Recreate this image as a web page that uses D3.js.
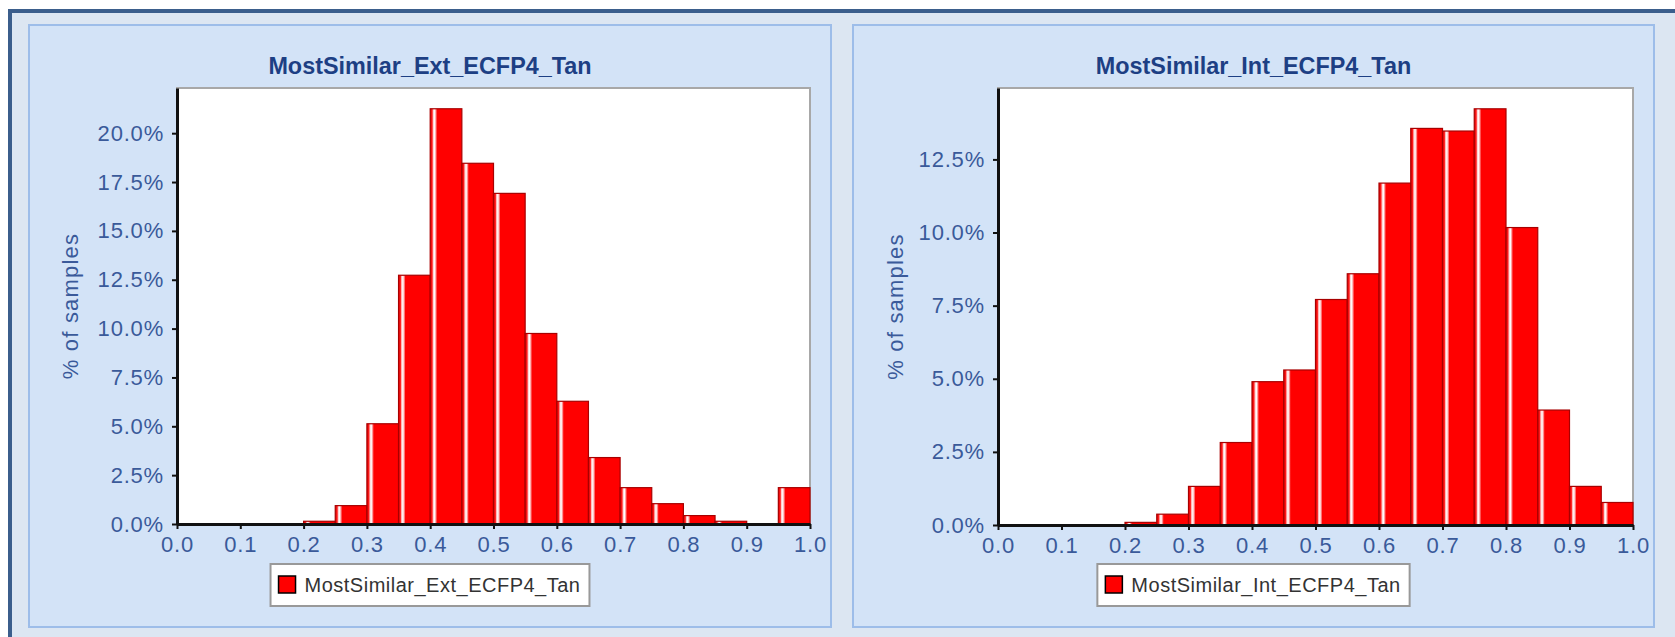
<!DOCTYPE html>
<html>
<head>
<meta charset="utf-8">
<script src="https://cdn.jsdelivr.net/npm/d3@7"></script>
<style>
  body { margin: 0; background: #ffffff; }
  text { font-family: "Liberation Sans", Arial, sans-serif; }
</style>
</head>
<body>
<div id="chart"></div>
<script>
// bin edges of the histograms (20 bins of 0.05)
let binStarts = [0.00, 0.05, 0.10, 0.15, 0.20, 0.25, 0.30, 0.35, 0.40, 0.45,
                 0.50, 0.55, 0.60, 0.65, 0.70, 0.75, 0.80, 0.85, 0.90, 0.95];
let binWidth = 0.05;

// % of samples per bin
let extValues = [0, 0, 0, 0, 0.14, 0.94, 5.13, 12.73, 21.25, 18.46,
                 16.92, 9.75, 6.28, 3.40, 1.86, 1.04, 0.43, 0.14, 0.02, 1.86];
let intValues = [0, 0, 0, 0, 0.09, 0.37, 1.32, 2.82, 4.90, 5.30,
                 7.71, 8.59, 11.69, 13.56, 13.47, 14.23, 10.17, 3.93, 1.32, 0.77];

let extTitle = "MostSimilar_Ext_ECFP4_Tan";
let intTitle = "MostSimilar_Int_ECFP4_Tan";
let yLabel = "% of samples";

let xTicks = [0, 0.1, 0.2, 0.3, 0.4, 0.5, 0.6, 0.7, 0.8, 0.9, 1.0];
let extYTicks = [0, 2.5, 5, 7.5, 10, 12.5, 15, 17.5, 20];
let intYTicks = [0, 2.5, 5, 7.5, 10, 12.5];

let fmtX = d3.format(".1f");
let fmtY = d => d3.format(".1f")(d) + "%";

let svg = d3.select("#chart").append("svg")
    .attr("width", 1675)
    .attr("height", 637);

// bar highlight stripe, java-ish look
let grad = svg.append("defs").append("linearGradient")
    .attr("id", "barShine")
    .attr("x1", "0").attr("x2", "1").attr("y1", "0").attr("y2", "0");
[[0, "#e00000"], [0.06, "#ff1a1a"], [0.10, "#ffd0d0"], [0.14, "#ffffff"],
 [0.18, "#ff9090"], [0.22, "#ff0000"], [1, "#ff0000"]].forEach(s => {
  grad.append("stop").attr("offset", s[0]).attr("stop-color", s[1]);
});

// outer frame
svg.append("rect")
    .attr("x", 10).attr("y", 11)
    .attr("width", 1700).attr("height", 700)
    .attr("fill", "#dce6f2")
    .attr("stroke", "#3b5e8c")
    .attr("stroke-width", 4);

function makeHistogram(opts) {
  let g = svg.append("g");

  // panel
  g.append("rect")
      .attr("x", opts.panel[0]).attr("y", opts.panel[1])
      .attr("width", opts.panel[2]).attr("height", opts.panel[3])
      .attr("fill", "#d3e3f7")
      .attr("stroke", "#9dbde9")
      .attr("stroke-width", 2);
  let cx = opts.panel[0] + opts.panel[2] / 2;

  g.append("text")
      .attr("x", cx).attr("y", 74)
      .attr("text-anchor", "middle")
      .attr("font-size", "23.4px")
      .attr("font-weight", "bold")
      .attr("fill", "#1d3f84")
      .text(opts.title);

  let x = d3.scaleLinear().domain([0, 1]).range([opts.left, opts.right]);
  let y = d3.scaleLinear().domain([0, d3.max(opts.values) * 1.05]).range([opts.bottom, opts.top]);

  // plot area
  g.append("rect")
      .attr("x", opts.left).attr("y", opts.top)
      .attr("width", opts.right - opts.left).attr("height", opts.bottom - opts.top)
      .attr("fill", "#ffffff")
      .attr("stroke", "#a8a8a8")
      .attr("stroke-width", 2);

  g.append("g").selectAll("rect")
      .data(opts.values)
      .join("rect")
      .attr("x", (d, i) => x(binStarts[i]))
      .attr("y", d => y(d))
      .attr("width", (d, i) => x(binStarts[i] + binWidth) - x(binStarts[i]))
      .attr("height", d => y(0) - y(d))
      .attr("fill", "url(#barShine)")
      .attr("stroke", "#a80000")
      .attr("stroke-width", 1.2);

  let yAxis = g.append("g")
      .attr("transform", `translate(${opts.left},0)`)
      .call(d3.axisLeft(y).tickValues(opts.yTicks).tickFormat(fmtY).tickSize(5).tickSizeOuter(0).tickPadding(8));
  let xAxis = g.append("g")
      .attr("transform", `translate(0,${opts.bottom})`)
      .call(d3.axisBottom(x).tickValues(xTicks).tickFormat(fmtX).tickSize(5).tickSizeOuter(0).tickPadding(6));

  [yAxis, xAxis].forEach(a => {
    a.select(".domain").attr("stroke", "#111").attr("stroke-width", 3);
    a.selectAll(".tick line").attr("stroke", "#111").attr("stroke-width", 2);
    a.selectAll(".tick text")
        .attr("fill", "#3a5a9a")
        .attr("font-size", "22px")
        .attr("letter-spacing", "0.8px")
        .style("font-family", "'Liberation Sans', Arial, sans-serif");
  });
  xAxis.selectAll(".tick text").attr("dy", "0.78em");

  g.append("text")
      .attr("transform", `translate(${opts.yLabelX},${(opts.top + opts.bottom) / 2}) rotate(-90)`)
      .attr("text-anchor", "middle")
      .attr("dy", "0.35em")
      .attr("font-size", "22px")
      .attr("letter-spacing", "1.2px")
      .attr("fill", "#3a5a9a")
      .text(yLabel);

  // legend
  let leg = g.append("g");
  let legText = leg.append("text")
      .attr("y", 585)
      .attr("dy", "0.35em")
      .attr("font-size", "20px")
      .attr("letter-spacing", "0.5px")
      .attr("fill", "#333333")
      .text(opts.title);
  let tw = legText.node().getComputedTextLength();
  let lw = 8 + 17 + 9 + tw + 9;
  let lx = cx - lw / 2;
  leg.insert("rect", "text")
      .attr("x", lx).attr("y", 564)
      .attr("width", lw).attr("height", 42)
      .attr("fill", "#ffffff")
      .attr("stroke", "#999999")
      .attr("stroke-width", 2);
  leg.append("rect")
      .attr("x", lx + 8).attr("y", 576)
      .attr("width", 17).attr("height", 17)
      .attr("fill", "#ff0000")
      .attr("stroke", "#000")
      .attr("stroke-width", 1.5);
  legText.attr("x", lx + 34);
}

makeHistogram({
  panel: [29, 25, 802, 602],
  title: extTitle,
  values: extValues,
  yTicks: extYTicks,
  left: 177, right: 810, top: 88, bottom: 524,
  yLabelX: 70
});

makeHistogram({
  panel: [853, 25, 801, 602],
  title: intTitle,
  values: intValues,
  yTicks: intYTicks,
  left: 998, right: 1633, top: 88, bottom: 525,
  yLabelX: 895
});
</script>
</body>
</html>
